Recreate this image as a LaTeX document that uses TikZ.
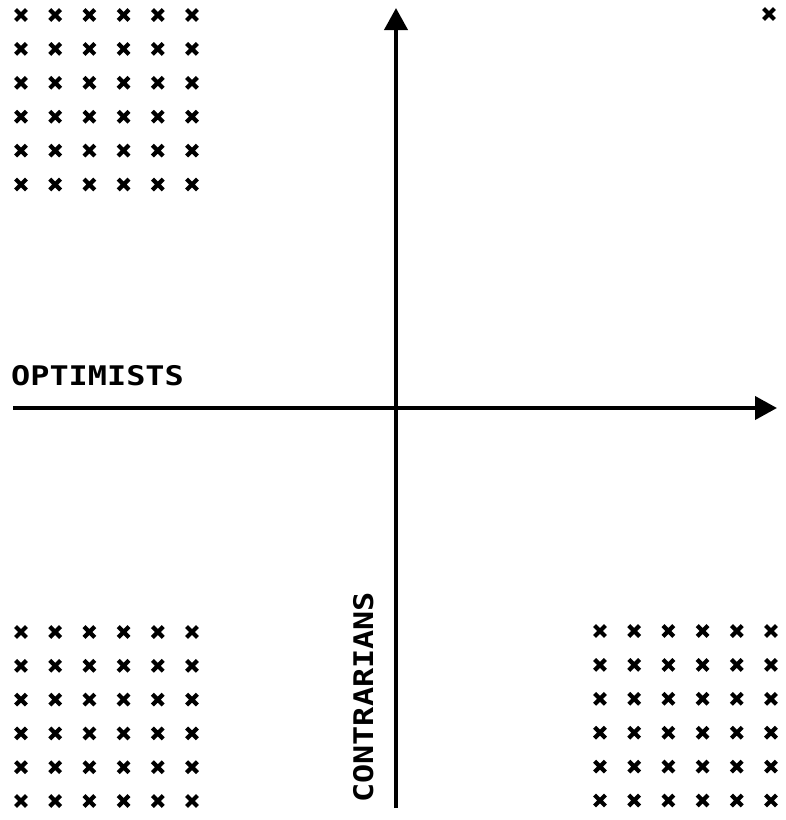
\documentclass[tikz,border=0pt]{standalone}
\usepackage{fontspec}
\newfontfamily\labelfont[FakeStretch=1.18]{DejaVu Sans Mono Bold}
\usetikzlibrary{arrows.meta}
\tikzset{
  axis/.style={line width=4pt, -{Triangle[length=22pt,width=23pt]}},
  axislabel/.style={inner sep=0pt, font=\labelfont\fontsize{27pt}{27pt}\selectfont},
  crossmark/.pic={\draw[line width=4.2pt] (-5.4,-5.4) -- (5.4,5.4) (-5.4,5.4) -- (5.4,-5.4);}
}
\begin{document}
\begin{tikzpicture}[x=1pt,y=-1pt]
\useasboundingbox (0,0) rectangle (786,820);
% axes
\coordinate (hstart) at (13,408);
\coordinate (hend) at (777,408);
\coordinate (vstart) at (396,808);
\coordinate (vend) at (396,8);
\draw[axis] (hstart) -- (hend);
\draw[axis] (vstart) -- (vend);
% labels
\node[axislabel, anchor=base west] (opt) at (11,385) {OPTIMISTS};
\node[axislabel, anchor=base west, rotate=90] (con) at (373,803) {CONTRARIANS};
% cross grids
\foreach \i in {0,...,5} {
  \foreach \j in {0,...,5} {
    \pic at ({21+34.2*\i},{15+33.9*\j}) {crossmark};
    \pic at ({21+34.2*\i},{632+33.8*\j}) {crossmark};
    \pic at ({600+34.2*\i},{631+33.9*\j}) {crossmark};
  }
}
\pic at (769,14) {crossmark};
\end{tikzpicture}
\end{document}
